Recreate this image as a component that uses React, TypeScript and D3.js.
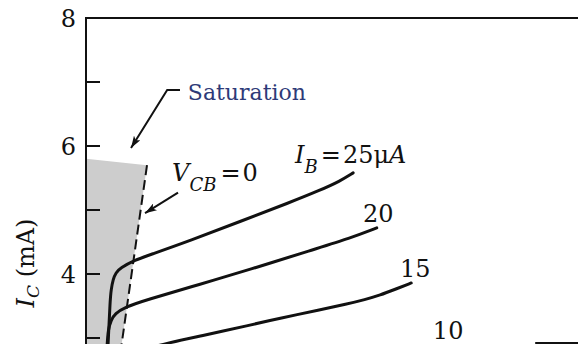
import React from "react";
import * as d3 from "d3";

const W = 578;
const H = 344;

// Collector characteristics: vCE (V) and iC (mA) for each base current
const vce25 = [0.41, 0.45, 0.49, 0.51, 0.55, 0.61, 0.69, 1.0, 1.3, 2.11, 3.13, 4.15, 4.76, 5.16, 5.43];
const ic25 = [2.34, 2.91, 3.59, 3.75, 3.92, 4.02, 4.09, 4.22, 4.3, 4.52, 4.82, 5.12, 5.31, 5.45, 5.58];

const vce20 = [0.39, 0.43, 0.45, 0.51, 0.59, 0.79, 1.2, 2.32, 3.33, 4.61, 5.37, 5.91];
const ic20 = [2.34, 2.91, 3.13, 3.28, 3.38, 3.48, 3.59, 3.84, 4.07, 4.38, 4.56, 4.72];

const vce15 = [0.79, 1.1, 1.65, 2.32, 3.33, 3.94, 4.76, 5.3, 5.67, 5.98, 6.28, 6.61];
const ic15 = [2.63, 2.81, 2.92, 3.03, 3.2, 3.31, 3.44, 3.53, 3.6, 3.67, 3.76, 3.86];

// Saturation region bounded by the vCB = 0 line
const satV = [0, 1.24, 0.65, 0];
const satI = [5.8, 5.7, 2.5, 2.5];
const vcb0V = [1.24, 0.65];
const vcb0I = [5.7, 2.5];

// Axis ticks
const majorTicks = [8, 6, 4];
const minorTicks = [7, 5, 3];

// Base-current labels
const ibLabels = ["20", "15", "10"];
const ibLabelV = [5.63, 6.38, 7.05];
const ibLabelI = [4.81, 3.95, 2.99];

const x = d3.scaleLinear().domain([0, 10]).range([86, 578]);
const y = d3.scaleLinear().domain([0, 8]).range([530, 18]);

const curve = (vs: number[], is: number[]) =>
  d3
    .line<number>()
    .x((_, i) => x(vs[i]))
    .y((_, i) => y(is[i]))
    .curve(d3.curveBasis)(vs) as string;

const poly = (vs: number[], is: number[], closed = false) =>
  vs.map((v, i) => `${i ? "L" : "M"}${x(v)},${y(is[i])}`).join("") + (closed ? "Z" : "");

const FONT = "'DejaVu Serif', serif";

export default function App() {
  return (
    <svg
      width={W}
      height={H}
      viewBox={`0 0 ${W} ${H}`}
      style={{ position: "absolute", left: 0, top: 0, background: "#fff" }}
      fontFamily={FONT}
    >
      <defs>
        <marker
          id="arrow"
          viewBox="0 0 12 8"
          refX="12"
          refY="4"
          markerWidth="12"
          markerHeight="8"
          markerUnits="userSpaceOnUse"
          orient="auto"
        >
          <path d="M0,0 L12,4 L0,8 L3,4 Z" fill="#111" />
        </marker>
      </defs>

      {/* saturation shading */}
      <path d={poly(satV, satI, true)} fill="#cdcdcd" stroke="none" />

      {/* vCB = 0 boundary */}
      <path d={poly(vcb0V, vcb0I)} fill="none" stroke="#111" strokeWidth={2} strokeDasharray="10,5" />

      {/* characteristic curves */}
      {[
        [vce25, ic25],
        [vce20, ic20],
        [vce15, ic15],
      ].map(([vs, is], k) => (
        <path key={k} d={curve(vs, is)} fill="none" stroke="#111" strokeWidth={3} strokeLinecap="round" />
      ))}

      {/* frame */}
      <line x1={x(0)} x2={x(0)} y1={y(8) - 1} y2={H + 2} stroke="#111" strokeWidth={2} />
      <line x1={x(0) - 1} x2={W} y1={y(8)} y2={y(8)} stroke="#111" strokeWidth={2} />
      <line x1={x(9.13)} x2={W} y1={y(2.92)} y2={y(2.92)} stroke="#111" strokeWidth={2} />

      {/* ticks */}
      {[...majorTicks, ...minorTicks].map((t) => (
        <line key={t} x1={x(0)} x2={x(0) + 14} y1={y(t)} y2={y(t)} stroke="#111" strokeWidth={2} />
      ))}
      {majorTicks.map((t) => (
        <text key={t} x={76} y={y(t) + 9} textAnchor="end" fontSize={24} fill="#111">
          {t}
        </text>
      ))}

      {/* y axis title */}
      <text transform={`translate(34,263) rotate(-90)`} textAnchor="middle" fontSize={24} fill="#111">
        <tspan fontStyle="italic">I</tspan>
        <tspan fontStyle="italic" fontSize={17} dy={5}>C</tspan>
        <tspan dy={-5}> (mA)</tspan>
      </text>

      {/* saturation annotation */}
      <text x={x(2.07)} y={y(6.72)} fontSize={22} fill="#2e3a78">
        Saturation
      </text>
      <path
        d={poly([1.91, 1.65, 0.915], [6.875, 6.875, 5.97])}
        fill="none"
        stroke="#111"
        strokeWidth={2}
        markerEnd="url(#arrow)"
      />

      {/* vCB = 0 annotation */}
      <text x={x(1.75)} y={y(5.45)} fontSize={24} fill="#111">
        <tspan fontStyle="italic">V</tspan>
        <tspan fontStyle="italic" fontSize={18} dy={10}>CB</tspan>
        <tspan dy={-10} dx={4}>=</tspan>
        <tspan dx={2}>0</tspan>
      </text>
      <path
        d={poly([1.87, 1.2], [5.27, 4.95])}
        fill="none"
        stroke="#111"
        strokeWidth={2}
        markerEnd="url(#arrow)"
      />

      {/* base current labels */}
      <text x={x(4.25)} y={y(5.73)} fontSize={24} fill="#111">
        <tspan fontStyle="italic">I</tspan>
        <tspan fontStyle="italic" fontSize={18} dy={10}>B</tspan>
        <tspan dy={-10} dx={3}>=</tspan>
        <tspan dx={2}>25μ</tspan>
        <tspan fontStyle="italic">A</tspan>
      </text>
      {ibLabels.map((l, i) => (
        <text key={l} x={x(ibLabelV[i])} y={y(ibLabelI[i])} fontSize={24} fill="#111">
          {l}
        </text>
      ))}
    </svg>
  );
}
